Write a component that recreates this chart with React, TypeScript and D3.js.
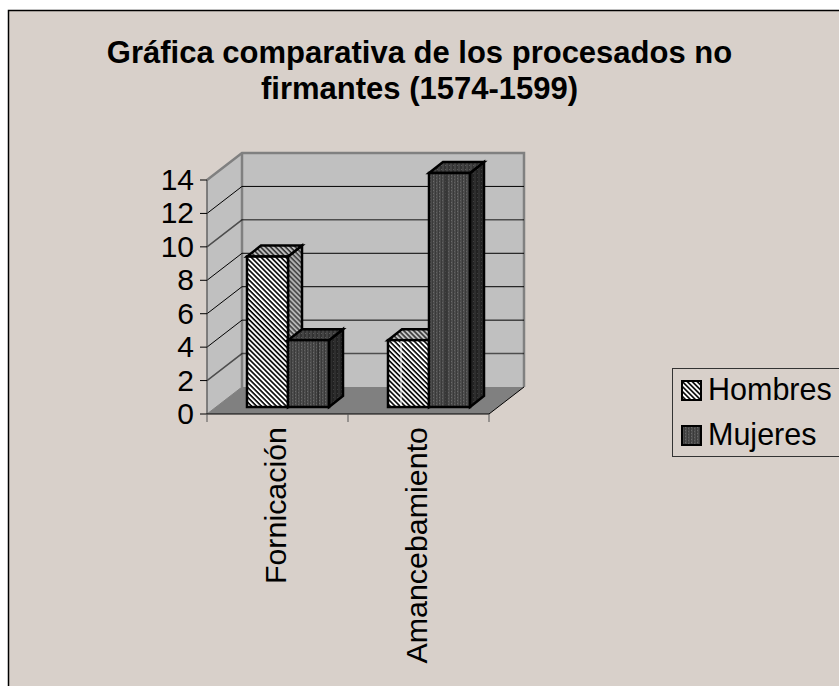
import React from 'react';
import * as d3 from 'd3';

const title = ['Gráfica comparativa de los procesados no', 'firmantes (1574-1599)'];
const categories = ['Fornicación', 'Amancebamiento'];
const seriesNames = ['Hombres', 'Mujeres'];
const hombres = [9, 4];
const mujeres = [4, 14];
const yTicks = [0, 2, 4, 6, 8, 10, 12, 14];

const W = 839;
const H = 686;
const FONT = '"Liberation Sans", Arial, sans-serif';

// front plane of the 3d box, the back wall is the same plane pushed by depth
const x = d3.scaleBand().domain(categories).range([207, 489]);
const y = d3.scaleLinear().domain([0, 14]).range([414, 180]);
const depth = { dx: 35, dy: -27 };

// bars stand a little behind the front plane
const barShift = { dx: 10, dy: -7 };
const barDepth = { dx: 14, dy: -11 };
const inner = d3.scaleBand().domain(seriesNames).range([30, 112]);

// the hatch fills have a visible seam in the source, offset from the bar's left edge
const seams: Record<string, number[]> = { 'Fornicación': [0, 30], 'Amancebamiento': [13, 17] };

const poly = (pts: number[][]) => pts.map(p => p.join(',')).join(' ');

const Bar = ({ cat, name, value }: { cat: string; name: string; value: number }) => {
  const x0 = (x(cat) as number) + (inner(name) as number) + barShift.dx;
  const x1 = x0 + inner.bandwidth();
  const yB = y(0) + barShift.dy;
  const yT = y(value) + barShift.dy;
  const id = name === 'Hombres' ? 'h' : 'm';
  const { dx, dy } = barDepth;
  const seam = seams[cat][name === 'Hombres' ? 0 : 1];
  return (
    <g stroke="#000" strokeWidth={2.5} strokeLinejoin="miter">
      <polygon points={poly([[x1, yB], [x1 + dx, yB + dy], [x1 + dx, yT + dy], [x1, yT]])} fill={`url(#${id}Side)`} />
      <polygon points={poly([[x0, yT], [x1, yT], [x1 + dx, yT + dy], [x0 + dx, yT + dy]])} fill={`url(#${id}Top)`} />
      <rect x={x0} y={yT} width={x1 - x0} height={yB - yT} fill={`url(#${id}Front)`} />
      {seam > 0 && (
        <line x1={x0 + seam} x2={x0 + seam} y1={yT + 1} y2={yB - 1} stroke={name === 'Hombres' ? '#fff' : '#222'} strokeWidth={1} />
      )}
    </g>
  );
};

export default function App() {
  const x0 = 207;
  const x1 = 489;
  const bx0 = x0 + depth.dx;
  const bx1 = x1 + depth.dx;
  const yBase = y(0);
  const yTop = y(14);

  return (
    <svg width={W} height={H} style={{ position: 'absolute', left: 0, top: 0, display: 'block' }} fontFamily={FONT}>
      <defs>
        <pattern id="hFront" width="3.5" height="3.5" patternUnits="userSpaceOnUse" patternTransform="rotate(45)">
          <rect width="3.5" height="3.5" fill="#fff" />
          <rect width="3.5" height="1.6" fill="#000" />
        </pattern>
        <pattern id="hTop" width="3.5" height="3.5" patternUnits="userSpaceOnUse" patternTransform="rotate(45)">
          <rect width="3.5" height="3.5" fill="#c4c4c4" />
          <rect width="3.5" height="1.6" fill="#333" />
        </pattern>
        <pattern id="hSide" width="3.5" height="3.5" patternUnits="userSpaceOnUse" patternTransform="rotate(45)">
          <rect width="3.5" height="3.5" fill="#b4b4b4" />
          <rect width="3.5" height="1.6" fill="#444" />
        </pattern>
        <pattern id="mFront" width="6" height="3" patternUnits="userSpaceOnUse">
          <rect width="6" height="3" fill="#4c4c4c" />
          <rect width="1" height="3" fill="#3a3a3a" />
          <rect x="3" width="1" height="3" fill="#3a3a3a" />
          <rect x="1" y="1" width="1" height="1" fill="#6a6a6a" />
          <rect x="4" y="2" width="1" height="1" fill="#626262" />
        </pattern>
        <pattern id="mTop" width="4" height="4" patternUnits="userSpaceOnUse">
          <rect width="4" height="4" fill="#444" />
          <rect width="2" height="4" fill="#333" />
          <rect x="1" y="1" width="1" height="1" fill="#5a5a5a" />
        </pattern>
        <pattern id="mSide" width="4" height="4" patternUnits="userSpaceOnUse">
          <rect width="4" height="4" fill="#2e2e2e" />
          <rect width="2" height="4" fill="#222" />
          <rect x="1" y="1" width="1" height="1" fill="#3e3e3e" />
        </pattern>
      </defs>

      <rect x={8.5} y={10.5} width={W} height={H} fill="#d8d0ca" stroke="#000" strokeWidth={1.5} />

      {title.map((t, i) => (
        <text key={t} x={419.5} y={63 + i * 36} textAnchor="middle" fontSize={31} fontWeight="bold" fill="#000">{t}</text>
      ))}

      {/* walls and floor */}
      <polygon points={poly([[x0, yTop], [bx0, yTop + depth.dy], [bx0, yBase + depth.dy], [x0, yBase]])} fill="#c0c0c0" stroke="#808080" strokeWidth={1} />
      <rect x={bx0} y={yTop + depth.dy} width={x1 - x0} height={yBase - yTop} fill="#c0c0c0" />
      <polygon points={poly([[x0, yBase], [x1, yBase], [bx1, yBase + depth.dy], [bx0, yBase + depth.dy]])} fill="#808080" />
      <path d={`M${x0},${yTop}L${bx0},${yTop + depth.dy}H${bx1}V${yBase + depth.dy}`} fill="none" stroke="#808080" strokeWidth={2.5} />
      <path d={`M${bx0},${yTop + depth.dy}V${yBase + depth.dy}`} fill="none" stroke="#808080" strokeWidth={2.5} />

      {/* gridlines run along the left wall and across the back wall */}
      {yTicks.filter(v => v > 0 && v < 14).map(v => (
        <path key={v} d={`M${x0},${y(v)}L${bx0},${y(v) + depth.dy}H${bx1}`} fill="none" stroke="#000" strokeWidth={v === 10 || v === 2 ? 1.5 : 1} strokeOpacity={v === 10 || v === 2 ? 0.6 : 1} />
      ))}

      {/* axes */}
      <path d={`M${x0},${yTop}V${yBase}`} stroke="#555" strokeWidth={1} />
      <path d={`M${x0},${yBase}H${x1}L${bx1},${yBase + depth.dy}`} fill="none" stroke="#000" strokeWidth={1} />
      {yTicks.map(v => (
        <g key={v}>
          <line x1={x0 - 7} x2={x0} y1={y(v)} y2={y(v)} stroke="#000" />
          <text x={x0 - 13} y={y(v) + 10} textAnchor="end" fontSize={30} fill="#000">{v}</text>
        </g>
      ))}
      {[x0, x0 + x.step(), x1].map(t => (
        <line key={t} x1={t} x2={t} y1={yBase} y2={yBase + 8} stroke="#555" />
      ))}

      {/* bars */}
      {categories.map((c, i) => (
        <g key={c}>
          <Bar cat={c} name="Hombres" value={hombres[i]} />
          <Bar cat={c} name="Mujeres" value={mujeres[i]} />
        </g>
      ))}

      {/* category labels */}
      {categories.map(c => {
        const cx = (x(c) as number) + x.bandwidth() / 2 + 8;
        return (
          <text key={c} transform={`translate(${cx},427) rotate(-90)`} textAnchor="end" fontSize={30.4} fill="#000">{c}</text>
        );
      })}

      {/* legend */}
      <rect x={672.5} y={368.5} width={W} height={88} fill="#d8d0ca" stroke="#333" strokeWidth={1} />
      {seriesNames.map((n, i) => (
        <g key={n}>
          <rect x={682} y={381 + i * 45} width={19} height={19} fill={i === 0 ? 'url(#hFront)' : 'url(#mFront)'} stroke="#000" strokeWidth={2} />
          <text x={708} y={400 + i * 45} fontSize={30.5} fill="#000">{n}</text>
        </g>
      ))}
    </svg>
  );
}
